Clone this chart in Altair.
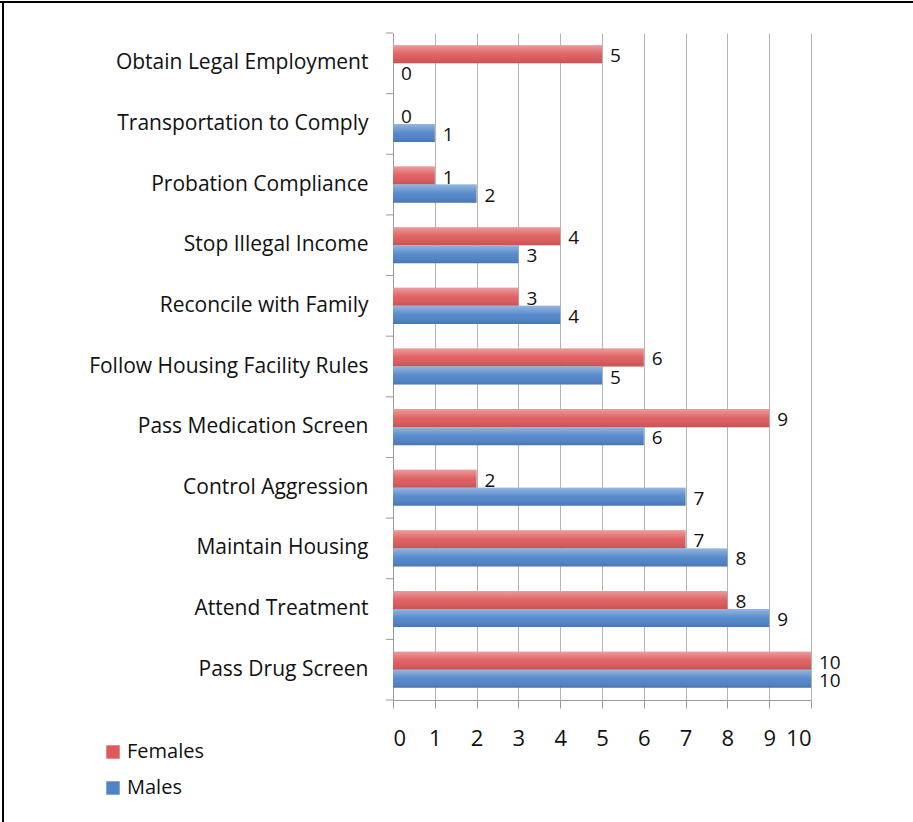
import altair as alt
import pandas as pd

FONT = "Open Sans"

categories = [
    "Obtain Legal Employment",
    "Transportation to Comply",
    "Probation Compliance",
    "Stop Illegal Income",
    "Reconcile with Family",
    "Follow Housing Facility Rules",
    "Pass Medication Screen",
    "Control Aggression",
    "Maintain Housing",
    "Attend Treatment",
    "Pass Drug Screen",
]
females = [5, 0, 1, 4, 3, 6, 9, 2, 7, 8, 10]
males = [0, 1, 2, 3, 4, 5, 6, 7, 8, 9, 10]
series = ["Females", "Males"]
series_colors = ["#DE5A5C", "#4F84C9"]
x_ticks = list(range(11))
band_edges = list(range(len(categories) + 1))

rows = []
for c, f, m in zip(categories, females, males):
    rows.append({"category": c, "series": "Females", "value": f})
    rows.append({"category": c, "series": "Males", "value": m})
df = pd.DataFrame(rows)

y_enc = alt.Y(
    "category:N",
    sort=categories,
    scale=alt.Scale(paddingInner=0, paddingOuter=0),
    axis=alt.Axis(
        title=None, ticks=False, grid=False, labelPadding=25, labelFontSize=21,
        labelFont=FONT, labelColor="#111111", domainColor="#9a9a9a", labelLimit=500,
    ),
)
yoff_enc = alt.YOffset(
    "series:N", sort=series, scale=alt.Scale(paddingInner=0, paddingOuter=0.68)
)
x_enc = alt.X(
    "value:Q",
    scale=alt.Scale(domain=[0, 10], nice=False),
    axis=alt.Axis(
        title=None, values=x_ticks, grid=True, gridColor="#b4b4b4", tickSize=8,
        tickColor="#9a9a9a", domainColor="#9a9a9a", labelFontSize=22, labelFont=FONT,
        labelColor="#111111", labelPadding=20,
    ),
)

base = alt.Chart(df).encode(y=y_enc, yOffset=yoff_enc, x=x_enc)

bars = base.mark_bar().encode(
    color=alt.Color(
        "series:N",
        sort=series,
        scale=alt.Scale(domain=series, range=series_colors),
        legend=alt.Legend(
            title=None, orient="none", legendX=-290, legendY=709, symbolType="square",
            symbolSize=180, symbolStrokeWidth=0, labelFontSize=20, labelFont=FONT,
            labelColor="#111111", rowPadding=16, padding=0, labelOffset=4,
            direction="vertical",
        ),
    )
)

shade = base.mark_bar(
    fill=alt.LinearGradient(
        gradient="linear",
        stops=[
            alt.GradientStop(offset=0, color="rgba(255,255,255,0.40)"),
            alt.GradientStop(offset=0.5, color="rgba(255,255,255,0.05)"),
            alt.GradientStop(offset=1, color="rgba(0,0,0,0.10)"),
        ],
        x1=0, x2=0, y1=0, y2=1,
    )
)

labels = base.mark_text(
    align="left", baseline="middle", dx=8, dy=2, fontSize=19, font=FONT, color="#111111"
).encode(text="value:Q")

main = alt.layer(bars, shade, labels)

edges = alt.Chart(pd.DataFrame({"edge": band_edges})).mark_rule(color="#9a9a9a").encode(
    y=alt.Y("edge:Q", scale=alt.Scale(domain=[0, len(categories)], nice=False, zero=False), axis=None),
    x=alt.value(-7),
    x2=alt.value(0),
)

frame_top = alt.Chart(pd.DataFrame({"k": [0]})).mark_rule(color="#000000", strokeWidth=2).encode(
    x=alt.value(-393), x2=alt.value(520), y=alt.value(-31)
)
frame_left = alt.Chart(pd.DataFrame({"k": [0]})).mark_rule(color="#000000", strokeWidth=2).encode(
    x=alt.value(-390), y=alt.value(-31), y2=alt.value(789)
)

chart = (
    alt.layer(main, edges, frame_top, frame_left)
    .resolve_scale(y="independent")
    .properties(
        width=418,
        height=667,
        autosize=alt.AutoSizeParams(type="none"),
        padding={"left": 393, "top": 33, "right": 102, "bottom": 122},
        background="white",
    )
    .configure_view(stroke=None)
)

chart.save("out.html", embed_options={"renderer": "svg", "actions": False})
